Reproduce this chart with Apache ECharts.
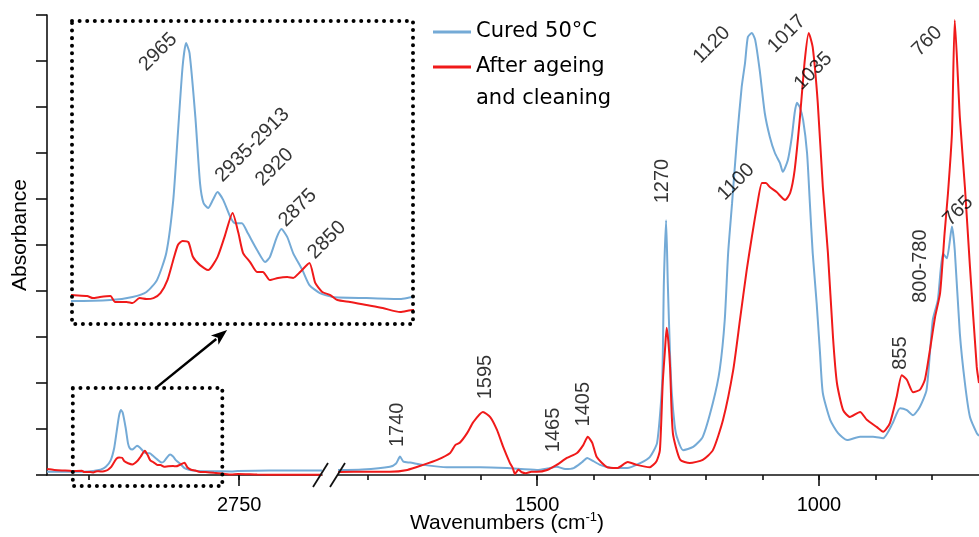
<!DOCTYPE html>
<html>
<head>
<meta charset="utf-8">
<script src="https://cdn.jsdelivr.net/npm/echarts@6/dist/echarts.min.js"></script>
<style>
  html, body { margin: 0; padding: 0; background: #fff; }
  #chart { width: 979px; height: 537px; }
</style>
</head>
<body>
<div id="chart"></div>
<script>
var FONT = "'Liberation Sans', Arial, sans-serif";
var BLUE = '#74aad6';
var RED = '#f01a1a';

var seriesNames = ['Cured 50°C', 'After ageing\nand cleaning'];

// C-H stretching region (left part of broken axis), [wavenumber, absorbance]
var blueHigh = [
  [3070, 0.07], [3045, 0.068], [3012, 0.073], [2993, 0.089], [2981, 0.115], [2972, 0.177],
  [2964, 0.318], [2958, 0.594], [2954, 0.944], [2950, 1.288], [2947, 1.413], [2944, 1.361],
  [2939, 1.027], [2935, 0.683], [2932, 0.579], [2928, 0.553], [2924, 0.594], [2920, 0.636],
  [2915, 0.594], [2909, 0.506], [2905, 0.474], [2899, 0.474], [2894, 0.422], [2886, 0.334],
  [2879, 0.271], [2875, 0.297], [2869, 0.401], [2865, 0.443], [2860, 0.401], [2855, 0.318],
  [2847, 0.229], [2841, 0.151], [2832, 0.109], [2821, 0.089], [2792, 0.083], [2763, 0.078],
  [2752, 0.089], [2700, 0.1], [2650, 0.1], [2612, 0.1]
];
var redHigh = [
  [3070, 0.13], [3058, 0.11], [3045, 0.099], [3032, 0.094], [3027, 0.083], [3021, 0.089],
  [3012, 0.094], [3008, 0.063], [2998, 0.063], [2993, 0.057], [2987, 0.083], [2981, 0.078],
  [2975, 0.083], [2969, 0.109], [2963, 0.177], [2958, 0.282], [2954, 0.36], [2950, 0.381],
  [2945, 0.375], [2941, 0.297], [2935, 0.255], [2928, 0.229], [2920, 0.297], [2914, 0.401],
  [2907, 0.527], [2902, 0.422], [2898, 0.318], [2892, 0.271], [2886, 0.219], [2881, 0.219],
  [2875, 0.177], [2868, 0.188], [2860, 0.193], [2855, 0.188], [2849, 0.219], [2841, 0.266],
  [2836, 0.162], [2830, 0.115], [2823, 0.099], [2817, 0.073], [2806, 0.063], [2792, 0.047],
  [2778, 0.031], [2763, 0.01], [2752, 0.021], [2720, 0.01], [2680, 0.005], [2612, 0.005]
];

// fingerprint region (right part)
var blueLow = [
  [1853, 0.109], [1810, 0.12], [1761, 0.18], [1750, 0.25], [1743, 0.4], [1737, 0.29],
  [1725, 0.27], [1702, 0.22], [1660, 0.17], [1601, 0.17], [1553, 0.15], [1500, 0.11],
  [1482, 0.14], [1465, 0.18], [1450, 0.13], [1435, 0.15], [1420, 0.28], [1411, 0.37],
  [1400, 0.3], [1388, 0.22], [1365, 0.15], [1340, 0.15], [1317, 0.26], [1300, 0.39],
  [1287, 0.7], [1278, 2.0], [1275, 4.17], [1271, 5.54], [1268, 4.17], [1264, 2.6],
  [1261, 1.8], [1256, 1.1], [1252, 0.83], [1241, 0.54], [1223, 0.61], [1206, 0.83],
  [1188, 1.57], [1176, 2.28], [1167, 3.37], [1161, 4.82], [1154, 5.91], [1145, 7.35],
  [1137, 8.43], [1131, 8.96], [1126, 9.52], [1119, 9.61], [1113, 9.46], [1105, 8.8],
  [1096, 7.87], [1087, 7.35], [1078, 7.0], [1069, 6.78], [1064, 6.59], [1055, 6.85],
  [1048, 7.35], [1043, 7.87], [1039, 8.09], [1034, 8.0], [1028, 7.72], [1021, 7.0],
  [1016, 5.91], [1011, 4.83], [1004, 3.74], [998, 2.65], [993, 1.78], [980, 1.2],
  [966, 0.91], [950, 0.76], [927, 0.83], [904, 0.83], [886, 0.8], [869, 1.13],
  [856, 1.45], [844, 1.41], [833, 1.3], [821, 1.48], [809, 1.85], [798, 3.37],
  [789, 3.8], [780, 4.82], [773, 4.71], [764, 5.4], [759, 4.89], [750, 3.08],
  [741, 2.0], [732, 1.26], [720, 0.91], [716, 0.85]
];
var redLow = [
  [1853, 0.065], [1800, 0.07], [1761, 0.07], [1730, 0.11], [1702, 0.22], [1677, 0.33],
  [1654, 0.48], [1645, 0.65], [1637, 0.7], [1624, 0.91], [1613, 1.15], [1596, 1.37],
  [1583, 1.26], [1571, 0.98], [1560, 0.61], [1548, 0.26], [1543, 0.15], [1539, 0.02],
  [1533, 0.12], [1527, 0.06], [1520, 0.04], [1510, 0.07], [1500, 0.07], [1482, 0.11],
  [1465, 0.22], [1447, 0.37], [1429, 0.48], [1418, 0.65], [1410, 0.83], [1402, 0.7],
  [1394, 0.39], [1376, 0.17], [1358, 0.15], [1339, 0.28], [1323, 0.22], [1300, 0.17],
  [1288, 0.3], [1282, 0.54], [1277, 2.0], [1273, 2.72], [1270, 3.2], [1267, 2.9],
  [1264, 2.35], [1259, 0.91], [1246, 0.33], [1229, 0.26], [1206, 0.33], [1188, 0.54],
  [1170, 1.2], [1152, 2.28], [1140, 3.37], [1128, 4.46], [1119, 5.17], [1110, 5.83],
  [1101, 6.35], [1094, 6.35], [1087, 6.26], [1075, 6.15], [1060, 5.98], [1051, 6.13],
  [1043, 6.63], [1034, 7.72], [1025, 9.02], [1018, 9.61], [1011, 9.3], [1002, 8.09],
  [993, 6.26], [984, 4.83], [975, 3.0], [968, 2.0], [957, 1.41], [945, 1.26],
  [927, 1.37], [915, 1.2], [897, 1.04], [886, 0.94], [874, 1.13], [862, 1.7],
  [853, 2.17], [844, 2.07], [833, 1.8], [821, 1.85], [812, 2.07], [803, 2.72],
  [794, 3.43], [785, 3.96], [777, 5.26], [771, 6.13], [764, 7.43], [759, 9.89],
  [750, 7.78], [741, 6.26], [732, 4.52], [720, 2.35], [716, 2.0]
];

// axis ticks
var highMinorTicks = [3000, 2750];
var highMajorTicks = [2750];
var lowMinorTicks = [1800, 1700, 1600, 1500, 1400, 1300, 1200, 1100, 1000, 900, 800];
var lowMajorTicks = [1500, 1000];

// peak labels: text, wavenumber, absorbance, rotation
var lowLabels = [
  ['1740', 1748, 1.09, 90], ['1595', 1592, 2.13, 90], ['1465', 1470, 0.98, 90],
  ['1405', 1418, 1.54, 90], ['1270', 1278, 6.39, 90], ['1120', 1190, 9.35, 45],
  ['1017', 1057, 9.59, 45], ['1035', 1010, 8.78, 45], ['1100', 1147, 6.37, 45],
  ['760', 808, 9.43, 45], ['800-780', 819, 4.54, 90], ['765', 753, 5.74, 45],
  ['855', 856, 2.65, 90]
];
var insetLabels = [
  ['2965', 2971, 1.366, 45], ['2935-2913', 2890, 0.881, 45], ['2920', 2871, 0.766, 45],
  ['2875', 2851, 0.553, 45], ['2850', 2826, 0.386, 45]
];

// magnified region shown in the inset, and arrow
var zoomBox = [3027, 2778, -0.24, 1.89];
var insetRange = [2752, 3045, -0.052, 1.528];
var arrowFrom = [2887, 1.91];
var arrowTo = [2770, 3.15];

var myChart = echarts.init(document.getElementById('chart'));

function lineSeries(name, data, idx, width) {
  return {
    name: name, type: 'line', data: data, xAxisIndex: idx, yAxisIndex: idx,
    showSymbol: false, smooth: 0.2, animation: false, silent: true,
    lineStyle: { width: width, color: name === seriesNames[0] ? BLUE : RED },
    itemStyle: { color: name === seriesNames[0] ? BLUE : RED },
    z: name === seriesNames[0] ? 2 : 3
  };
}

function labelSeries(list, idx) {
  return {
    type: 'scatter', xAxisIndex: idx, yAxisIndex: idx, symbolSize: 0, silent: true,
    animation: false, z: 5,
    data: list.map(function (d) {
      return { name: d[0], value: [d[1], d[2]], label: { rotate: d[3] } };
    }),
    label: {
      show: true, position: 'inside', formatter: '{b}',
      fontSize: 20, fontFamily: FONT, color: '#000'
    }
  };
}

function xAx(grid, min, max, ticks, len, labels, line) {
  return {
    type: 'value', gridIndex: grid, min: min, max: max, inverse: true,
    axisLine: { show: line, lineStyle: { color: '#111', width: 1.6 } },
    axisTick: { show: true, customValues: ticks, length: len, lineStyle: { color: '#111', width: 1.6 } },
    axisLabel: {
      show: !!labels, customValues: labels || [], margin: 20,
      fontSize: 20, fontFamily: FONT, color: '#000',
      formatter: function (v) { return String(v); }
    },
    splitLine: { show: false }
  };
}

function yHidden(grid, min, max) {
  return { type: 'value', gridIndex: grid, min: min, max: max, show: false, splitLine: { show: false } };
}

var legendText = { fontSize: 21, fontFamily: "'DejaVu Sans', sans-serif", color: '#000', lineHeight: 32 };

var option = {
  backgroundColor: '#fff',
  animation: false,
  grid: [
    { left: 47, top: 15, width: 275, bottom: 62 },
    { left: 47, top: 15, width: 275, bottom: 62 },
    { left: 338, top: 15, right: 0, bottom: 62 },
    { left: 338, top: 15, right: 0, bottom: 62 },
    { left: 72, top: 21, width: 341, height: 303 }
  ],
  xAxis: [
    xAx(0, 2612, 3070, highMinorTicks, 5, null, true),
    xAx(1, 2612, 3070, highMajorTicks, 11, highMajorTicks, false),
    xAx(2, 716, 1853, lowMinorTicks, 5, null, true),
    xAx(3, 716, 1853, lowMajorTicks, 11, lowMajorTicks, false),
    { type: 'value', gridIndex: 4, min: insetRange[0], max: insetRange[1], inverse: true, show: false, splitLine: { show: false } }
  ],
  yAxis: [
    {
      type: 'value', gridIndex: 0, min: 0, max: 10, interval: 1,
      name: 'Absorbance', nameLocation: 'middle', nameGap: 16,
      nameTextStyle: { fontSize: 21, fontFamily: FONT, color: '#000', padding: [0, 0, 0, 20] },
      axisLine: { show: true, lineStyle: { color: '#111', width: 1.6 } },
      axisTick: { show: true, length: 11, lineStyle: { color: '#111', width: 1.6 } },
      axisLabel: { show: false },
      splitLine: { show: false }
    },
    yHidden(1, 0, 10),
    yHidden(2, 0, 10),
    yHidden(3, 0, 10),
    yHidden(4, insetRange[2], insetRange[3])
  ],
  legend: [
    {
      orient: 'vertical', left: 428, top: 11, icon: 'rect', itemWidth: 38, itemHeight: 3,
      textStyle: legendText, data: [seriesNames[0]], selectedMode: false
    },
    {
      // blank first line keeps the icon level with "After ageing"
      orient: 'vertical', left: 428, top: 14, icon: 'rect', itemWidth: 38, itemHeight: 3,
      textStyle: legendText, data: [seriesNames[1]], selectedMode: false,
      formatter: function (name) { return ' \n' + name; }
    }
  ],
  series: [
    lineSeries(seriesNames[0], blueHigh, 0, 2),
    lineSeries(seriesNames[1], redHigh, 0, 2),
    lineSeries(seriesNames[0], blueLow, 2, 2),
    lineSeries(seriesNames[1], redLow, 2, 2),
    lineSeries(seriesNames[0], blueHigh, 4, 2),
    lineSeries(seriesNames[1], redHigh, 4, 2),
    labelSeries(lowLabels, 2),
    labelSeries(insetLabels, 4)
  ]
};

myChart.setOption(option);

// dotted boxes, arrow, axis break and x axis title
var p = function (g, pt) { return myChart.convertToPixel({ gridIndex: g }, pt); };
var b1 = p(0, [zoomBox[0], zoomBox[3]]);
var b2 = p(0, [zoomBox[1], zoomBox[2]]);
var i1 = p(4, [insetRange[1], insetRange[3]]);
var i2 = p(4, [insetRange[0], insetRange[2]]);
var a1 = p(0, arrowFrom);
var a2 = p(0, arrowTo);
var brk = p(0, [2612, 0]);

var dx = a2[0] - a1[0], dy = a2[1] - a1[1];
var L = Math.sqrt(dx * dx + dy * dy);
var ux = dx / L, uy = dy / L;
var headLen = 16, headW = 6;
var base = [a2[0] - ux * headLen, a2[1] - uy * headLen];

var dotted = { stroke: '#000', fill: null, lineWidth: 4, lineDash: [0.01, 7.6], lineCap: 'round' };

myChart.setOption({
  graphic: [
    { type: 'rect', shape: { x: b1[0], y: b1[1], width: b2[0] - b1[0], height: b2[1] - b1[1] }, style: dotted, z: 10 },
    { type: 'rect', shape: { x: i1[0], y: i1[1], width: i2[0] - i1[0], height: i2[1] - i1[1] }, style: dotted, z: 10 },
    { type: 'line', shape: { x1: a1[0], y1: a1[1], x2: base[0] + ux * 2, y2: base[1] + uy * 2 }, style: { stroke: '#000', lineWidth: 2.5 }, z: 10 },
    {
      type: 'polygon', z: 10,
      shape: { points: [a2, [base[0] - uy * headW, base[1] + ux * headW], [base[0] + ux * 4, base[1] + uy * 4], [base[0] + uy * headW, base[1] - ux * headW]] },
      style: { fill: '#000' }
    },
    { type: 'rect', shape: { x: brk[0] + 1, y: brk[1] - 3, width: 14, height: 6 }, style: { fill: '#fff' }, z: 9 },
    { type: 'line', shape: { x1: brk[0] - 9, y1: brk[1] + 12, x2: brk[0] + 6, y2: brk[1] - 12 }, style: { stroke: '#111', lineWidth: 1.8 }, z: 10 },
    { type: 'line', shape: { x1: brk[0] + 8, y1: brk[1] + 12, x2: brk[0] + 23, y2: brk[1] - 12 }, style: { stroke: '#111', lineWidth: 1.8 }, z: 10 },
    {
      type: 'text', left: 410, top: 511, z: 10,
      style: {
        text: 'Wavenumbers (cm{s|-1})',
        fontSize: 21, fontFamily: FONT, fill: '#000',
        rich: { s: { fontSize: 13, fontFamily: FONT, fill: '#000', padding: [0, 0, 12, 0] } }
      }
    }
  ]
});
</script>
</body>
</html>
